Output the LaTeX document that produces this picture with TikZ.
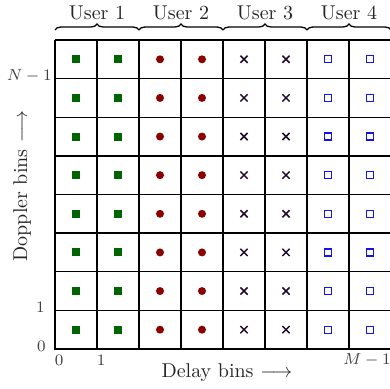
\documentclass[tikz,border=0pt]{standalone}
\usetikzlibrary{decorations.pathreplacing}
\definecolor{mkgreen}{RGB}{0,100,0}
\definecolor{mkred}{RGB}{139,0,0}
\definecolor{mkcross}{RGB}{35,10,45}
\definecolor{mkblue}{RGB}{20,20,230}
\begin{document}
\begin{tikzpicture}[x=0.5pt,y=-0.5pt,
  gridline/.style={line width=0.65pt},
  axisline/.style={line width=1pt},
  gsq/.style={rectangle,fill=mkgreen,inner sep=0pt,minimum size=4pt},
  rdot/.style={circle,fill=mkred,inner sep=0pt,minimum size=4pt},
  bsq/.style={rectangle,draw=mkblue,line width=0.6pt,inner sep=0pt,minimum size=3.5pt},
  crs/.style={inner sep=0pt,minimum size=3.2pt},
  userbrace/.style={decorate,decoration={brace,amplitude=3pt},line width=0.65pt},
  userlabel/.style={font=\normalsize,text=black!85},
  ticklabel/.style={font=\footnotesize,text=black!75,inner sep=1pt}]
\useasboundingbox (0,0) rectangle (390,389);
% grid
\foreach \i in {1,...,7} {
  \draw[gridline] ({55+42*\i},40) -- ({55+42*\i},349);
}
\foreach \j in {0,...,7} {
  \draw[gridline] (55,{40+38.625*\j}) -- (391,{40+38.625*\j});
}
\draw[axisline] (55,40) -- (55,349) -- (391,349);
% markers
\foreach \j in {0,...,7} {
  \node[gsq] (g0\j) at (76,{59.3+38.625*\j}) {};
  \node[gsq] (g1\j) at (118,{59.3+38.625*\j}) {};
  \node[rdot] (r0\j) at (160,{59.3+38.625*\j}) {};
  \node[rdot] (r1\j) at (202,{59.3+38.625*\j}) {};
  \node[crs] (c0\j) at (244,{59.3+38.625*\j}) {};
  \draw[mkcross,line width=0.75pt] (c0\j.north west) -- (c0\j.south east) (c0\j.north east) -- (c0\j.south west);
  \node[crs] (c1\j) at (286,{59.3+38.625*\j}) {};
  \draw[mkcross,line width=0.75pt] (c1\j.north west) -- (c1\j.south east) (c1\j.north east) -- (c1\j.south west);
  \node[bsq] (b0\j) at (328,{59.3+38.625*\j}) {};
  \node[bsq] (b1\j) at (370,{59.3+38.625*\j}) {};
}
% braces
\coordinate (u0) at (55,30);
\coordinate (u1) at (139,30);
\coordinate (u2) at (223,30);
\coordinate (u3) at (307,30);
\coordinate (u4) at (391,30);
\draw[userbrace] (u0) -- (u1);
\draw[userbrace] (u1) -- (u2);
\draw[userbrace] (u2) -- (u3);
\draw[userbrace] (u3) -- (u4);
\node[userlabel] (l1) at (97,13) {User 1};
\node[userlabel] (l2) at (181,13) {User 2};
\node[userlabel] (l3) at (265,13) {User 3};
\node[userlabel] (l4) at (349,13) {User 4};
% tick labels
\node[ticklabel,anchor=east] (yN) at (54,76) {$N-1$};
\node[ticklabel,anchor=east] (y1) at (47,307) {$1$};
\node[ticklabel,anchor=east] (y0) at (48,346) {$0$};
\node[ticklabel] (x0) at (59,360) {$0$};
\node[ticklabel] (x1) at (101,360) {$1$};
\node[ticklabel] (xM) at (367,360) {$M-1$};
% axis titles
\node[text=black!85] (dl) at (227,373) {Delay bins $\longrightarrow$};
\node[text=black!85,rotate=90] (dp) at (22,186) {Doppler bins $\longrightarrow$};
\end{tikzpicture}
\end{document}
